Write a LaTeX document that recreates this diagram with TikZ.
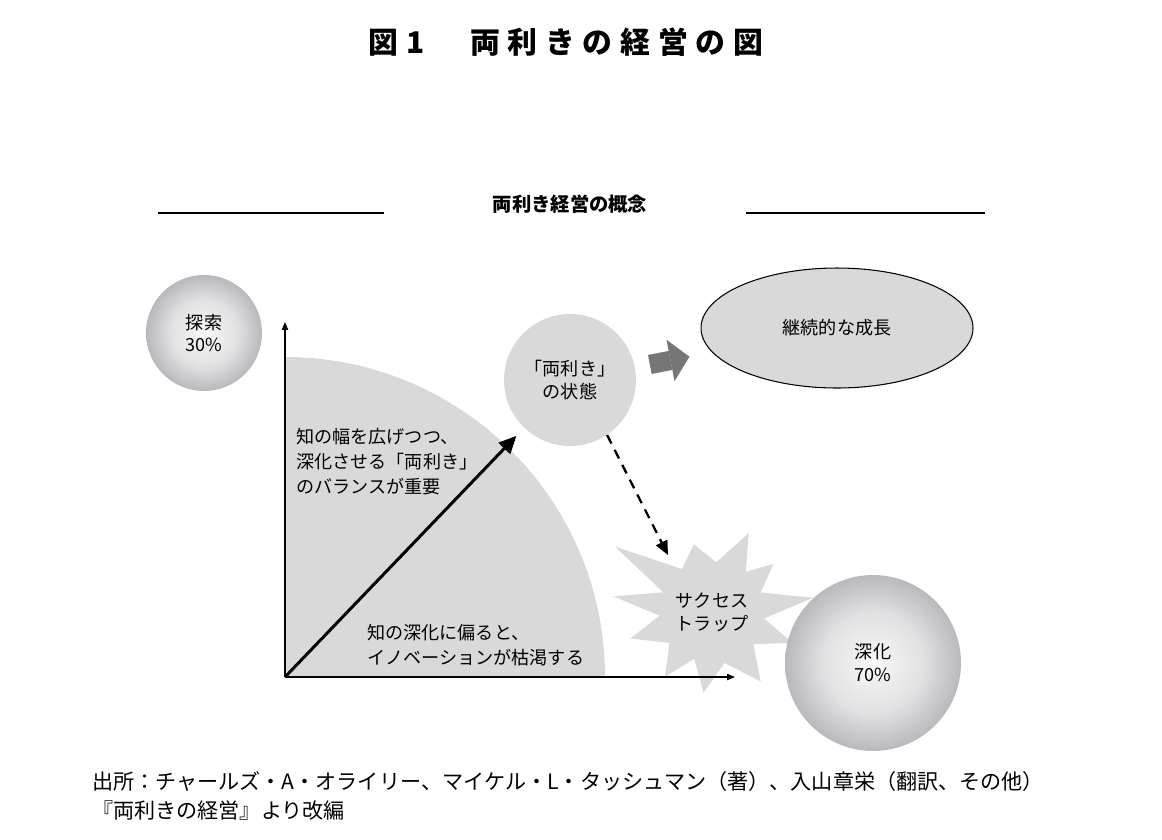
\documentclass[tikz,border=0pt]{standalone}
\usepackage{fontspec}
\setmainfont{Noto Sans CJK JP}
\usetikzlibrary{arrows.meta, calc, shapes.geometric}
\definecolor{areagray}{RGB}{217,217,217}
\definecolor{arrowgray}{RGB}{118,118,118}
\definecolor{ballrim}{RGB}{184,185,189}
\definecolor{ballmid}{RGB}{226,226,228}
\pgfdeclareradialshading{ball}{\pgfpoint{0bp}{0bp}}{color(0bp)=(white!98!black); color(5bp)=(white!94!black); color(14bp)=(ballmid); color(25bp)=(ballrim); color(50bp)=(ballrim)}
\newcommand{\ls}{\hspace{4.4pt}}

\begin{document}
\begin{tikzpicture}[
  x=0.02cm, y=-0.02cm,
  title/.style={font=\fontsize{17}{18}\selectfont\bfseries},
  heading/.style={font=\fontsize{11}{13}\selectfont\bfseries},
  txt/.style={font=\fontsize{10.3}{14.2}\selectfont, align=left, inner sep=0pt},
  ctxt/.style={font=\fontsize{10.3}{13}\selectfont, align=center},
  ball/.style={circle, shading=ball, minimum size=#1, inner sep=0pt, ctxt},
  flat/.style={circle, fill=areagray, minimum size=#1, inner sep=0pt, ctxt},
  area/.style={fill=areagray},
  rule/.style={line width=0.6pt},
  axis/.style={line width=0.8pt, -{Triangle[length=4.5pt, width=3.5pt]}},
  arr/.style={line width=1.7pt, -{Triangle[length=10pt, width=9pt]}},
  darr/.style={line width=1.3pt, dash pattern=on 5.5pt off 4pt, -{Triangle[length=8pt, width=7pt]}},
  bigarr/.style={arrowgray, line width=11pt, -{Triangle[length=11pt, width=24pt, line width=0pt]}}
]
\useasboundingbox (0,0) rectangle (1162,839);

% Title
\node[title] (title) at (566,42) {図\ls 1\hspace{26pt}両\ls 利\ls き\ls の\ls 経\ls 営\ls の\ls 図};
\node[heading] (concept) at (570,204) {両利き経営の概念};
\draw[rule] (158,213) -- (384,213);
\draw[rule] (746,213) -- (985,213);

% Area of the balance
\coordinate (O) at (285,677);
\coordinate (ytop) at (285,322);
\coordinate (xend) at (735,677);
\fill[area] (O) -- ++(320,0) arc[start angle=0, end angle=-90, radius=320] -- cycle;

% Success trap
\node[ctxt] (trap) at (712,612) {};
\fill[area] ($(trap)+(171:20mm)$)
  \foreach \a/\r in {158/10.5, 146/23.4, 125/10.5, 105/14, 85/10, 65/17.4, 50/10.5, 38/15.6, 22/10.5, 8/20.4,
    -7/10.5, -21/17.2, -38/10.5, -55/17, -76/10.5, -96/16.2, -111/10, -126/16, -144/10.5, -162/17.2, -176/10.5}
  { -- ($(trap)+(\a:\r mm)$) } -- cycle;
\node[ctxt] at (trap) {サクセス\\トラップ};

% Circles
\node[ball=23.2mm] (explore) at (204,333) {探索\\30\%};
\node[ball=35.2mm] (deep) at (873,663) {深化\\70\%};
\node[flat=26.4mm] (state) at (570,380) {「両利き」\\の状態};
\node[ellipse, draw, line width=0.6pt, fill=areagray, minimum width=54.4mm, minimum height=24mm, ctxt] (growth) at (837,328) {継続的な成長};

% Axes
\draw[axis] (O) -- (ytop);
\draw[axis] (O) -- (xend);

% Arrows
\draw[arr, shorten >=2.2mm] (O) -- (state);
\draw[bigarr, shorten <=3mm, shorten >=4.6mm] (state) -- (growth);
\coordinate (trapin) at (668,555);
\draw[darr] (state.-56) -- (trapin);

% Notes
\node[txt, anchor=west] (wide) at (296,462) {知の幅を広げつつ、\\深化させる「両利き」\\のバランスが重要};
\node[txt, anchor=west] (narrow) at (367,645) {知の深化に偏ると、\\イノベーションが枯渇する};

% Source
\node[txt, anchor=west, font=\fontsize{12}{16.5}\selectfont] (source) at (92,796) {出所：チャールズ・A・オライリー、マイケル・L・タッシュマン（著）、入山章栄（翻訳、その他）\\『両利きの経営』より改編};
\end{tikzpicture}
\end{document}
